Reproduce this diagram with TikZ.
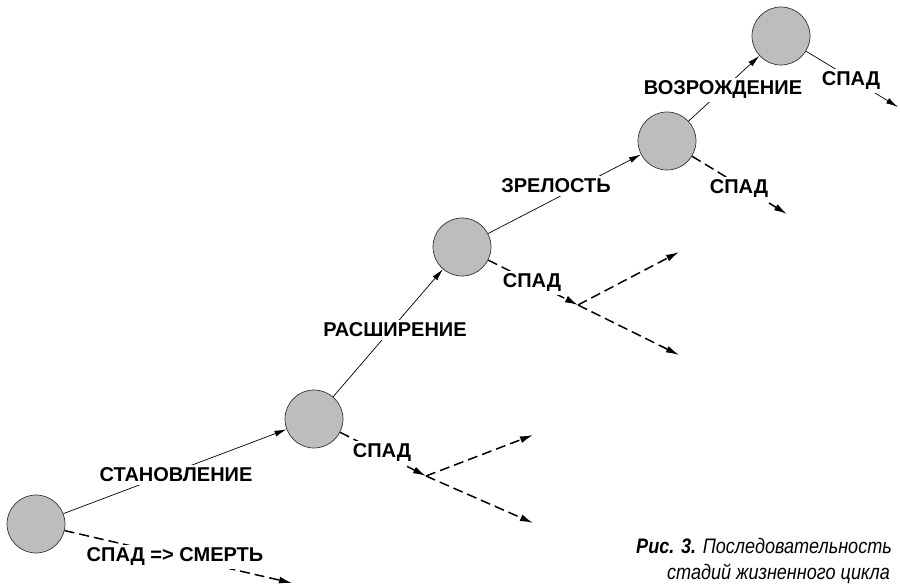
\documentclass[tikz,border=0pt]{standalone}
\usepackage{fontspec}
\setmainfont{Liberation Sans}
\usetikzlibrary{arrows.meta}
\tikzset{
	stage/.style={circle, draw=black!80, fill=black!26, line width=0.7pt, minimum size=58pt, inner sep=0pt},
	lbl/.style={fill=white, inner sep=3pt, font=\fontsize{20}{22}\selectfont\bfseries},
	rise/.style={line width=0.7pt, -{Latex[length=12pt,width=6pt]}},
	fall/.style={line width=1.5pt, dash pattern=on 10pt off 5pt, -{Latex[length=13pt,width=7pt]}},
	captxt/.style={anchor=base east, xscale=0.86, inner sep=0pt, font=\fontsize{21}{25}\selectfont\itshape}
}
\begin{document}
\begin{tikzpicture}[x=1pt, y=-1pt]
	\useasboundingbox (0,0) rectangle (900,585);
	%stages
	\node[stage] (s1) at (36,524) {};
	\node[stage] (s2) at (314,419) {};
	\node[stage] (s3) at (462,247) {};
	\node[stage] (s4) at (667,141) {};
	\node[stage] (s5) at (781,36) {};
	%decline points
	\coordinate (d1) at (292,583);
	\coordinate (b2) at (426,476);
	\coordinate (b2u) at (533,435);
	\coordinate (b2d) at (533,523);
	\coordinate (b3) at (578,305);
	\coordinate (b3u) at (679,252);
	\coordinate (b3d) at (679,355);
	\coordinate (d4) at (787,214);
	\coordinate (d5) at (898,107);
	%growth
	\draw[rise] (s1) -- (s2);
	\draw[rise] (s2) -- (s3);
	\draw[rise] (s3) -- (s4);
	\draw[rise] (s4) -- (s5);
	%decline
	\draw[fall] (s1) -- (d1);
	\draw[fall] (s2) -- (b2);
	\draw[fall] (b2) -- (b2u);
	\draw[fall] (b2) -- (b2d);
	\draw[fall] (s3) -- (b3);
	\draw[fall] (b3) -- (b3u);
	\draw[fall] (b3) -- (b3d);
	\draw[fall] (s4) -- (d4);
	\draw[rise] (s5) -- (d5);
	%text
	\node[lbl] (t1) at (176,475) {СТАНОВЛЕНИЕ};
	\node[lbl] (t2) at (395,330) {РАСШИРЕНИЕ};
	\node[lbl] (t3) at (556,186) {ЗРЕЛОСТЬ};
	\node[lbl] (t4) at (723,90) {ВОЗРОЖДЕНИЕ};
	\node[lbl] (f1) at (175,557) {СПАД => СМЕРТЬ};
	\node[lbl] (f2) at (382,453) {СПАД};
	\node[lbl] (f3) at (532,283) {СПАД};
	\node[lbl] (f4) at (739,189) {СПАД};
	\node[lbl] (f5) at (851,81) {СПАД};
	%caption
	\node[captxt] (cap1) at (892,553) {\textbf{Рис. 3.} Последовательность};
	\node[captxt] (cap2) at (890,579) {стадий жизненного цикла};
\end{tikzpicture}
\end{document}
